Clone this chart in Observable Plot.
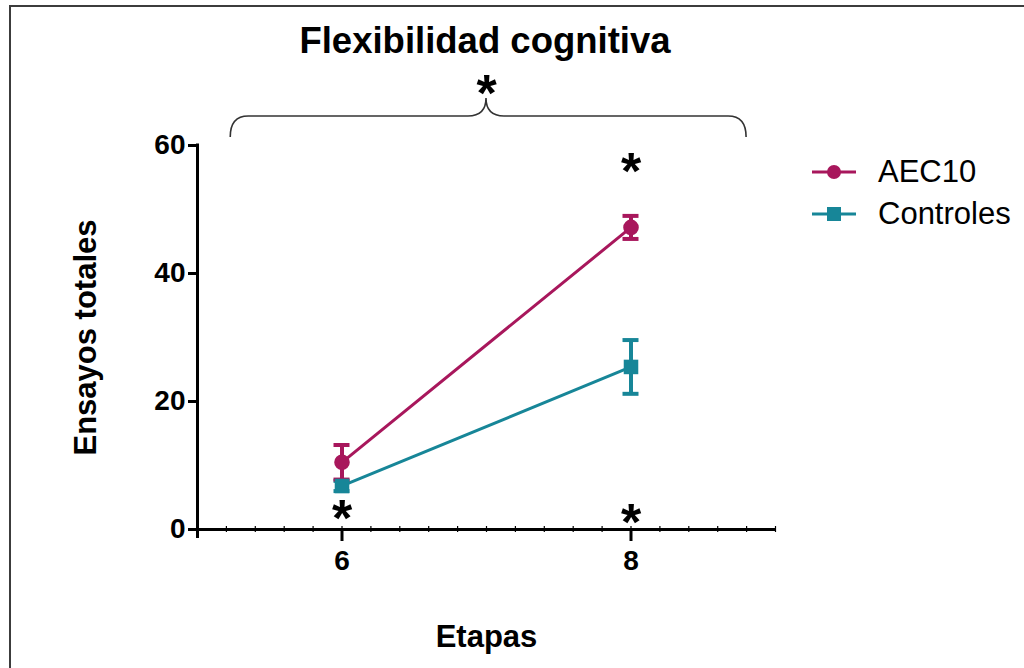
<!DOCTYPE html>
<html lang="es">
<head>
<meta charset="utf-8">
<script src="https://cdn.jsdelivr.net/npm/d3@7"></script>
<script src="https://cdn.jsdelivr.net/npm/@observablehq/plot@0.6"></script>
<style>
  html, body { margin: 0; padding: 0; background: #fff; overflow: hidden; }
  #lienzo { position: relative; width: 1024px; height: 668px; font-family: "Liberation Sans", Arial, sans-serif; }
  #marco { position: absolute; left: 9px; top: 5px; width: 1100px; height: 800px; border: 2px solid #3c3c3c; box-sizing: border-box; pointer-events: none; }
  #titulo { position: absolute; left: 0; width: 970px; top: 20px; text-align: center; font-size: 36.5px; font-weight: bold; color: #000; }
  #grafico { position: absolute; left: 0; top: 0; }
  #leyenda { position: absolute; left: 810px; top: 151px; font-size: 31px; color: #000; }
  .fila { display: flex; align-items: center; height: 42px; }
  .fila svg { margin-right: 20px; }
</style>
</head>
<body>
<div id="lienzo">
  <div id="grafico"></div>
  <div id="titulo">Flexibilidad cognitiva</div>
  <div id="leyenda"></div>
  <div id="marco"></div>
</div>
<script>
// Etapas evaluadas y ensayos totales (media ± error) por grupo
const etapas = [6, 8];
const grupos = ["AEC10", "Controles"];
const aec10Media = [10.5, 47.2];
const aec10Error = [2.7, 1.8];
const controlesMedia = [6.8, 25.4];
const controlesError = [0.8, 4.2];
const colores = ["#a8175c", "#178698"];
const simbolos = ["circle", "square"];

// Marcas de significación (*)
const asteriscoX = [6, 8, 8, 7];
const asteriscoY = [3.0, 2.3, 57.2, 69.4];

// Llave que agrupa ambas etapas: extremos, tramo horizontal y vértice
const llaveX = [5.23, 7, 8.8];
const llaveY = [61.25, 64.53, 67.34];

const yTicks = [0, 20, 40, 60];
const xTicks = [6, 8];

const datos = [];
etapas.forEach((e, i) => {
  datos.push({grupo: grupos[0], etapa: e, media: aec10Media[i], error: aec10Error[i]});
  datos.push({grupo: grupos[1], etapa: e, media: controlesMedia[i], error: controlesError[i]});
});
const asteriscos = asteriscoX.map((x, i) => ({x, y: asteriscoY[i]}));
const menores = d3.range(5, 9.001, 0.2);

const fuente = "Liberation Sans, Arial, sans-serif";

function llave(index, scales) {
  const {x, y} = scales;
  const xl = x(llaveX[0]), xc = x(llaveX[1]), xr = x(llaveX[2]);
  const yE = y(llaveY[0]), yH = y(llaveY[1]), yC = y(llaveY[2]);
  const rx = 18;
  const p = d3.path();
  p.moveTo(xl, yE);
  p.quadraticCurveTo(xl, yH, xl + rx, yH);
  p.lineTo(xc - rx, yH);
  p.quadraticCurveTo(xc, yH, xc, yC);
  p.quadraticCurveTo(xc, yH, xc + rx, yH);
  p.lineTo(xr - rx, yH);
  p.quadraticCurveTo(xr, yH, xr, yE);
  const el = document.createElementNS("http://www.w3.org/2000/svg", "path");
  el.setAttribute("d", p.toString());
  el.setAttribute("fill", "none");
  el.setAttribute("stroke", "#333");
  el.setAttribute("stroke-width", "1.6");
  return el;
}

const grafico = Plot.plot({
  width: 1024,
  height: 668,
  marginLeft: 197,
  marginRight: 249,
  marginTop: 145,
  marginBottom: 139,
  style: {fontFamily: fuente, color: "#000", background: "transparent", overflow: "visible"},
  x: {domain: [5, 9]},
  y: {domain: [0, 60]},
  color: {domain: grupos, range: colores},
  symbol: {domain: grupos, range: simbolos},
  marks: [
    // ejes
    Plot.axisY(yTicks, {tickSize: 9, tickPadding: 3, fontSize: 28, fontWeight: "bold", strokeWidth: 3, label: null}),
    Plot.axisX(xTicks, {tickSize: 12, tickPadding: 9, fontSize: 28, fontWeight: "bold", strokeWidth: 3, tickFormat: "d", label: null}),
    Plot.text(["Ensayos totales"], {frameAnchor: "left", textAnchor: "middle", lineAnchor: "middle", dx: -111, rotate: -90, fontSize: 31, fontWeight: "bold"}),
    Plot.text(["Etapas"], {frameAnchor: "bottom", lineAnchor: "middle", dy: 108, fontSize: 31, fontWeight: "bold"}),
    Plot.ruleX(menores, {y1: 0, y2: 0, insetTop: -3, insetBottom: -3, strokeWidth: 1.2}),
    Plot.ruleY([0], {strokeWidth: 3}),
    Plot.ruleX([5], {y1: 60, y2: 0, insetTop: -1.5, insetBottom: -9, strokeWidth: 3}),
    // series
    Plot.line(datos, {x: "etapa", y: "media", z: "grupo", stroke: "grupo", strokeWidth: 3}),
    Plot.ruleX(datos, {x: "etapa", y1: d => d.media - d.error, y2: d => d.media + d.error, stroke: "grupo", strokeWidth: 4}),
    Plot.ruleY(datos, {y: d => d.media + d.error, x1: "etapa", x2: "etapa", insetLeft: -8, insetRight: -8, stroke: "grupo", strokeWidth: 4}),
    Plot.ruleY(datos, {y: d => d.media - d.error, x1: "etapa", x2: "etapa", insetLeft: -8, insetRight: -8, stroke: "grupo", strokeWidth: 4}),
    Plot.dot(datos.filter(d => d.grupo === grupos[0]), {x: "etapa", y: "media", fill: "grupo", symbol: "grupo", r: 7.8, stroke: "none"}),
    Plot.dot(datos.filter(d => d.grupo === grupos[1]), {x: "etapa", y: "media", fill: "grupo", symbol: "grupo", r: 8.2, stroke: "none"}),
    // significación
    Plot.text(asteriscos, {x: "x", y: "y", text: () => "*", fontSize: 52, fontWeight: "bold", dy: 9, fill: "#000"}),
    llave
  ]
});
document.getElementById("grafico").appendChild(grafico);

// Leyenda
const leyenda = d3.select("#leyenda");
grupos.forEach((g, i) => {
  const fila = leyenda.append("div").attr("class", "fila");
  const s = fila.append("svg").attr("width", 48).attr("height", 20);
  s.append("line").attr("x1", 2).attr("x2", 46).attr("y1", 10).attr("y2", 10)
    .attr("stroke", colores[i]).attr("stroke-width", 3);
  if (simbolos[i] === "circle") {
    s.append("circle").attr("cx", 24).attr("cy", 10).attr("r", 7).attr("fill", colores[i]);
  } else {
    s.append("rect").attr("x", 17).attr("y", 3).attr("width", 14).attr("height", 14).attr("fill", colores[i]);
  }
  fila.append("span").text(g);
});
</script>
</body>
</html>
